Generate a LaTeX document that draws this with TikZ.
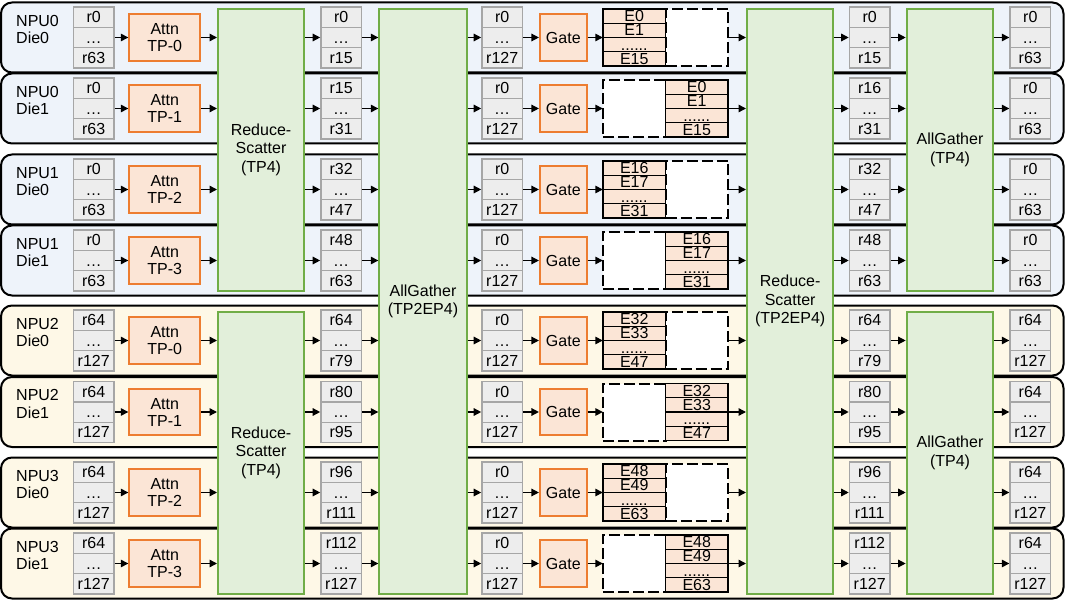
\documentclass[tikz,border=0pt]{standalone}
\usepackage{fontspec}
\setmainfont{Liberation Sans}
\usetikzlibrary{arrows.meta}
\definecolor{rowblue}{HTML}{EEF3FA}
\definecolor{rowyellow}{HTML}{FEF8E7}
\definecolor{gfill}{HTML}{E2EFDA}
\definecolor{gline}{HTML}{70AD47}
\definecolor{ofill}{HTML}{FBE5D6}
\definecolor{oline}{HTML}{ED7D31}
\definecolor{rfill}{HTML}{EDEDED}
\definecolor{rline}{HTML}{A6A6A6}
\tikzset{
 rowbox/.style={draw=black, line width=2pt, rounded corners=11pt},
 regcell/.style={draw=rline, fill=rfill, line width=1.3pt, minimum width=40.7pt, minimum height=20.3pt, inner sep=0pt, font=\fontsize{16}{17}\selectfont, text height=11.3pt, text depth=0pt},
 attnbox/.style={draw=oline, fill=ofill, line width=2pt, minimum width=71pt, minimum height=46.7pt, inner sep=0pt, align=center, font=\fontsize{16}{17}\selectfont},
 gatebox/.style={attnbox, minimum width=46.7pt},
 bigbox/.style={draw=gline, fill=gfill, line width=2pt, inner sep=0pt, align=center, anchor=north west, font=\fontsize{16}{18.5}\selectfont},
 ecell/.style={draw=black, fill=ofill, line width=1.3pt, minimum width=62.5pt, minimum height=14.25pt, inner sep=0pt, font=\fontsize{16}{15}\selectfont, text height=11pt, text depth=0pt},
 dashbox/.style={draw=black, fill=white, line width=2pt, dash pattern=on 11pt off 4pt, minimum width=62.5pt, minimum height=57pt, inner sep=0pt},
 blk/.style={minimum width=125pt, minimum height=57pt, inner sep=0pt},
 lbl/.style={anchor=north west, inner sep=0pt, align=left, font=\fontsize{16}{17.5}\selectfont},
 arr/.style={-{Triangle[length=7.5pt,width=7.5pt]}, line width=1.4pt},
}
\newcommand\regstk[5]{%
 \node[regcell] (#1-t) at (#2,#3-20.3) {#4};
 \node[regcell] (#1-m) at (#2,#3) {…};
 \node[regcell] (#1-b) at (#2,#3+20.3) {#5};
}
\begin{document}
\begin{tikzpicture}[x=1pt,y=-1pt]
\useasboundingbox (0,0) rectangle (1066,604);
\foreach \cy/\bgc in {37.5/rowblue,108.5/rowblue,189.5/rowblue,260.5/rowblue,340.5/rowyellow,412/rowyellow,492.5/rowyellow,563.5/rowyellow}
  \draw[rowbox, fill=\bgc] (1,\cy-35) rectangle (1063.5,\cy+35);
\node[bigbox, minimum width=86pt, minimum height=281.5pt] (rsT) at (217,8) {Reduce-\\Scatter\\(TP4)};
\node[bigbox, minimum width=86pt, minimum height=281.5pt] (rsB) at (217,311) {Reduce-\\Scatter\\(TP4)};
\node[bigbox, minimum width=87.4pt, minimum height=584.5pt] (ag) at (378.3,8) {AllGather\\(TP2EP4)};
\node[bigbox, minimum width=86.3pt, minimum height=584.5pt] (rsb) at (746,8) {Reduce-\\Scatter\\(TP2EP4)};
\node[bigbox, minimum width=86.6pt, minimum height=281.5pt] (agtT) at (905.7,8) {AllGather\\(TP4)};
\node[bigbox, minimum width=86.6pt, minimum height=281.5pt] (agtB) at (905.7,311) {AllGather\\(TP4)};
\foreach \ri/\cy/\npu/\die/\tp/\Ra/\Rb/\Rc/\Rd/\Rx/\Ea/\Eb/\Ec/\sdd/\hh in {
0/37.5/NPU0/Die0/0/r0/r63/r0/r15/r0/E0/E1/E15/0/T,
1/108.5/NPU0/Die1/1/r0/r63/r15/r31/r16/E0/E1/E15/1/T,
2/189.5/NPU1/Die0/2/r0/r63/r32/r47/r32/E16/E17/E31/0/T,
3/260.5/NPU1/Die1/3/r0/r63/r48/r63/r48/E16/E17/E31/1/T,
4/340.5/NPU2/Die0/0/r64/r127/r64/r79/r64/E32/E33/E47/0/B,
5/412/NPU2/Die1/1/r64/r127/r80/r95/r80/E32/E33/E47/1/B,
6/492.5/NPU3/Die0/2/r64/r127/r96/r111/r96/E48/E49/E63/0/B,
7/563.5/NPU3/Die1/3/r64/r127/r112/r127/r112/E48/E49/E63/1/B}{
 \node[lbl] (lab\ri) at (16,\cy-22.5) {\npu\\\die};
 \regstk{ra\ri}{93.7}{\cy}{\Ra}{\Rb}
 \node[attnbox] (attn\ri) at (164.8,\cy) {Attn\\TP-\tp};
 \regstk{rb\ri}{341.2}{\cy}{\Rc}{\Rd}
 \regstk{rc\ri}{502.2}{\cy}{r0}{r127}
 \node[gatebox] (gate\ri) at (563.3,\cy) {Gate};
 \node[blk] (ex\ri) at (665.5,\cy) {};
 \ifnum\sdd=0 \def\lx{634.25}\def\dx{696.75}\else\def\lx{696.75}\def\dx{634.25}\fi
 \node[dashbox] (dash\ri) at (\dx,\cy) {};
 \node[ecell] (ea\ri) at (\lx,\cy-21.375) {\Ea};
 \node[ecell] (eb\ri) at (\lx,\cy-7.125) {\Eb};
 \node[ecell] (ec\ri) at (\lx,\cy+7.125) {......};
 \node[ecell] (ed\ri) at (\lx,\cy+21.375) {\Ec};
 \regstk{rd\ri}{869.7}{\cy}{\Rx}{\Rd}
 \regstk{re\ri}{1030.3}{\cy}{\Ra}{\Rb}
 \draw[arr] (ra\ri-m.east) -- (attn\ri.west);
 \draw[arr] (attn\ri.east) -- (attn\ri.east -| rs\hh.west);
 \draw[arr] (rb\ri-m.west -| rs\hh.east) -- (rb\ri-m.west);
 \draw[arr] (rb\ri-m.east) -- (rb\ri-m.east -| ag.west);
 \draw[arr] (rc\ri-m.west -| ag.east) -- (rc\ri-m.west);
 \draw[arr] (rc\ri-m.east) -- (gate\ri.west);
 \draw[arr] (gate\ri.east) -- (ex\ri.west);
 \draw[arr] (ex\ri.east) -- (ex\ri.east -| rsb.west);
 \draw[arr] (rd\ri-m.west -| rsb.east) -- (rd\ri-m.west);
 \draw[arr] (rd\ri-m.east) -- (rd\ri-m.east -| agt\hh.west);
 \draw[arr] (re\ri-m.west -| agt\hh.east) -- (re\ri-m.west);
}
\end{tikzpicture}
\end{document}
